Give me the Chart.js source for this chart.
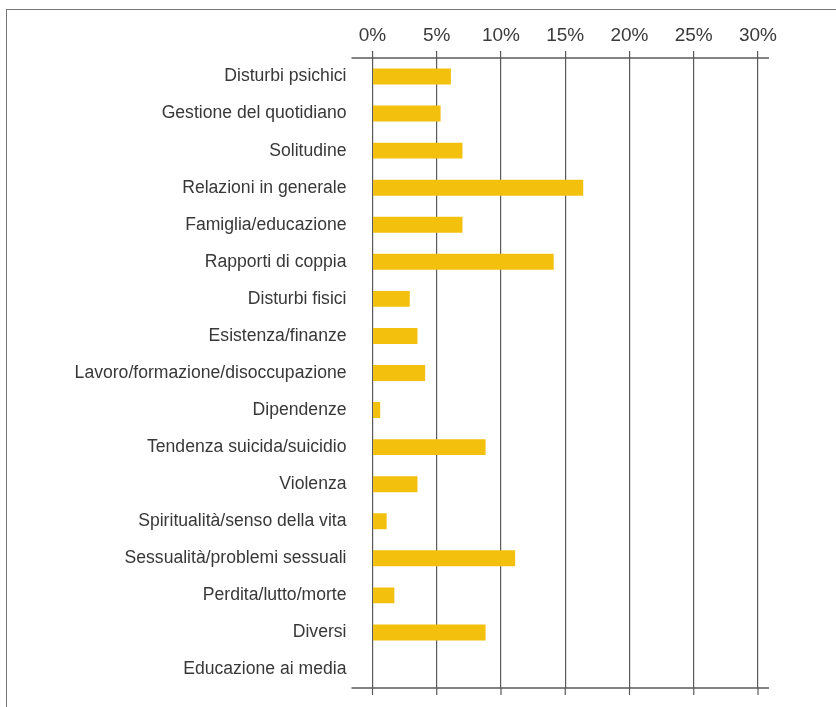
<!DOCTYPE html>
<html lang="it">
<head>
<meta charset="utf-8">
<script src="https://cdn.jsdelivr.net/npm/chart.js@4/dist/chart.umd.min.js"></script>
<style>
  html, body { margin: 0; padding: 0; background: #fff; overflow: hidden; }
  #cornice {
    position: absolute; left: 6px; top: 9px; width: 900px; height: 800px;
    border: 1.5px solid #777; box-sizing: border-box;
  }
  #grafico { position: absolute; left: 0; top: 0; }
</style>
</head>
<body>
<div id="cornice"></div>
<canvas id="grafico" width="836" height="707"></canvas>
<script>
// Temi (categorie) e percentuali
const temi = [
  "Disturbi psichici",
  "Gestione del quotidiano",
  "Solitudine",
  "Relazioni in generale",
  "Famiglia/educazione",
  "Rapporti di coppia",
  "Disturbi fisici",
  "Esistenza/finanze",
  "Lavoro/formazione/disoccupazione",
  "Dipendenze",
  "Tendenza suicida/suicidio",
  "Violenza",
  "Spiritualità/senso della vita",
  "Sessualità/problemi sessuali",
  "Perdita/lutto/morte",
  "Diversi",
  "Educazione ai media"
];
const percentuali = [6.1, 5.3, 7.0, 16.4, 7.0, 14.1, 2.9, 3.5, 4.1, 0.6, 8.8, 3.5, 1.1, 11.1, 1.7, 8.8, 0];
const tacche = [0, 5, 10, 15, 20, 25, 30]; // etichette asse: 0% ... 30%

const coloreLinee = '#5a5a5a';

// Linee orizzontali dell'asse che sporgono oltre l'area e tacche in basso
const lineeAsse = {
  id: 'lineeAsse',
  afterDraw(chart) {
    const { ctx, chartArea } = chart;
    const x = chart.scales.x;
    ctx.save();
    ctx.strokeStyle = coloreLinee;
    ctx.lineWidth = 1.5;
    [chartArea.top, chartArea.bottom].forEach(y => {
      ctx.beginPath();
      ctx.moveTo(chartArea.left - 21, y);
      ctx.lineTo(chartArea.right + 11, y);
      ctx.stroke();
    });
    ctx.lineWidth = 1.2;
    tacche.forEach(t => {
      const px = x.getPixelForValue(t);
      ctx.beginPath();
      ctx.moveTo(px, chartArea.bottom);
      ctx.lineTo(px, chartArea.bottom + 7);
      ctx.stroke();
    });
    ctx.restore();
  }
};

new Chart(document.getElementById('grafico'), {
  type: 'bar',
  data: {
    labels: temi,
    datasets: [{
      data: percentuali,
      backgroundColor: '#F2C00D',
      borderWidth: 0,
      barPercentage: 0.43,
      categoryPercentage: 1
    }]
  },
  options: {
    indexAxis: 'y',
    responsive: false,
    animation: false,
    layout: { padding: { left: 0, right: 78, top: 0, bottom: 19 } },
    plugins: { legend: { display: false }, tooltip: { enabled: false } },
    scales: {
      x: {
        position: 'top',
        min: 0,
        max: 30,
        afterBuildTicks(scale) {
          scale.ticks = tacche.map(v => ({ value: v }));
        },
        afterFit(scale) {
          scale.height = 58;
          scale.paddingLeft = 0;
          scale.paddingRight = 0;
        },
        ticks: {
          callback: v => v + '%',
          color: '#3a3a3a',
          font: { family: 'Liberation Sans, Arial, sans-serif', size: 19 },
          padding: 4,
          maxRotation: 0
        },
        grid: { color: coloreLinee, lineWidth: 1.2, tickLength: 7, drawTicks: true },
        border: { display: false }
      },
      y: {
        afterFit(scale) {
          scale.width = 372.5;
          scale.paddingTop = 0;
          scale.paddingBottom = 0;
        },
        ticks: {
          color: '#383838',
          font: { family: 'Liberation Sans, Arial, sans-serif', size: 17.6 },
          padding: 26
        },
        grid: { display: false, drawTicks: false },
        border: { display: false }
      }
    }
  },
  plugins: [lineeAsse]
});
</script>
</body>
</html>
